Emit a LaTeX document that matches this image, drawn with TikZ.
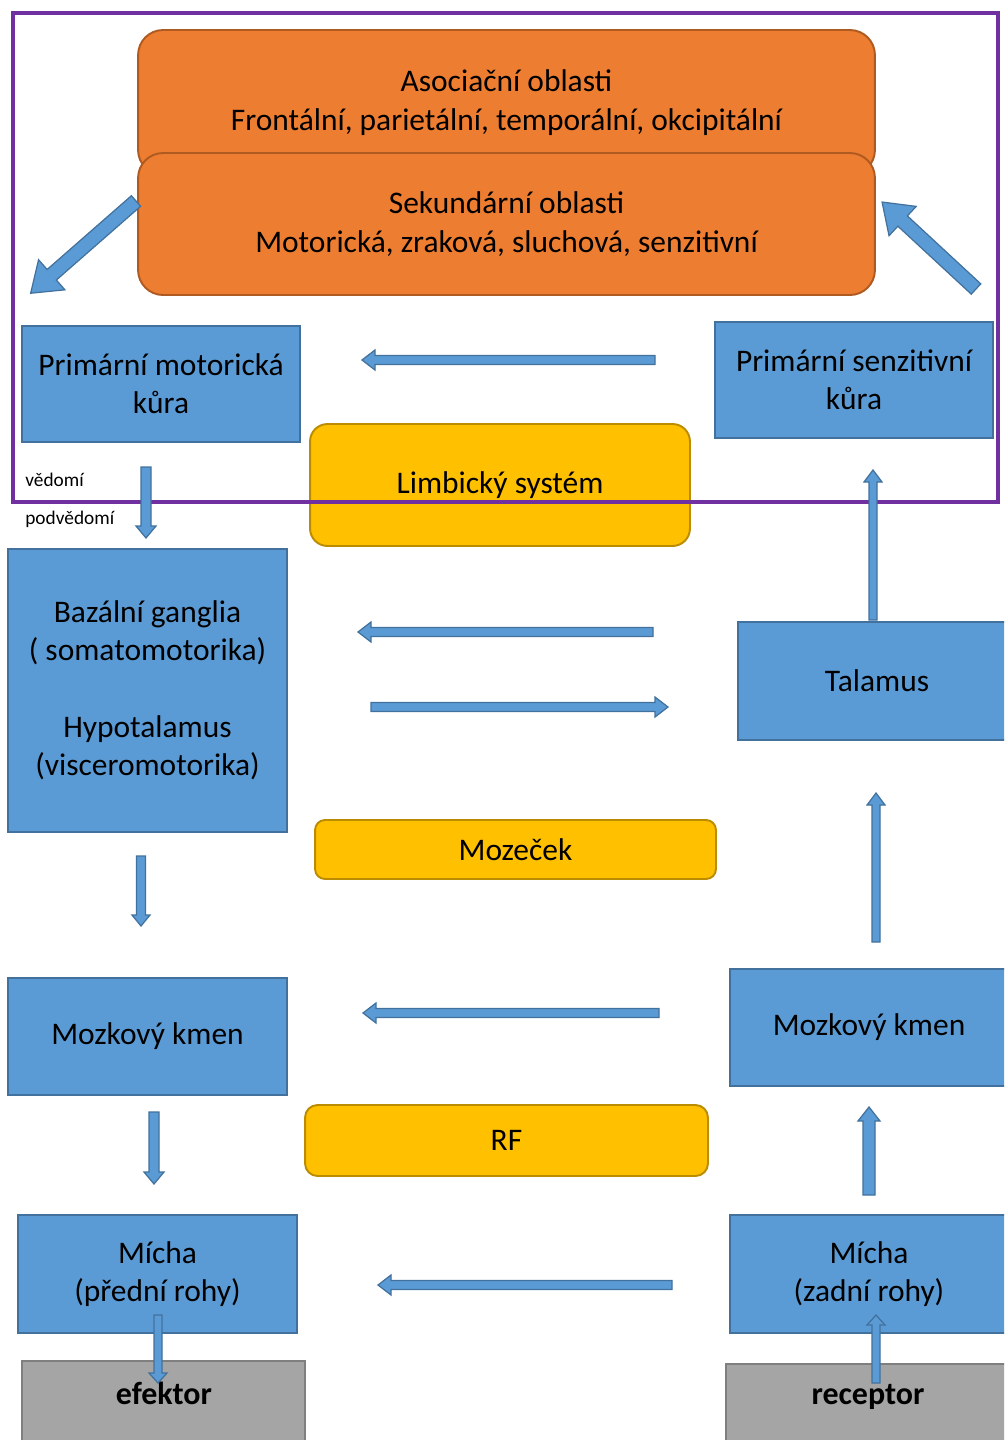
\documentclass[tikz,border=0pt]{standalone}
\usepackage{fontspec}
\setmainfont{Carlito}
\definecolor{bfill}{HTML}{5B9BD5}
\definecolor{bstroke}{HTML}{41719C}
\definecolor{ofill}{HTML}{ED7D31}
\definecolor{ostroke}{HTML}{AE5A21}
\definecolor{yfill}{HTML}{FFC000}
\definecolor{ystroke}{HTML}{BC8C00}
\definecolor{gfill}{HTML}{A5A5A5}
\definecolor{gstroke}{HTML}{7F7F7F}
\definecolor{purp}{HTML}{7030A0}
% block arrow: start coordinate, visual angle, length, half shaft, half head, head length
\newcommand{\barr}[6]{\draw[barrow, shift={(#1)}, rotate=#2] (0,-#4) -- ({#3-#6},-#4) -- ({#3-#6},-#5) -- (#3,0) -- ({#3-#6},#5) -- ({#3-#6},#4) -- (0,#4) -- cycle;}
\begin{document}
\begin{tikzpicture}[x=0.02cm,y=-0.02cm,
  txt/.style={font=\fontsize{17.9}{21.8}\selectfont, align=center, text=black},
  bluebox/.style={txt, draw=bstroke, fill=bfill, line width=1.1pt, inner sep=0pt},
  orangebox/.style={txt, draw=ostroke, fill=ofill, line width=1.1pt, inner sep=0pt, rounded corners=0.5cm},
  yellowbox/.style={txt, draw=ystroke, fill=yfill, line width=1.1pt, inner sep=0pt, rounded corners=0.35cm},
  graybox/.style={draw=gstroke, fill=gfill, line width=1.1pt, inner sep=0pt},
  boldtxt/.style={font=\fontsize{18.2}{22}\selectfont\bfseries, text=black},
  smalltxt/.style={font=\fontsize{11}{13}\selectfont, text=black, anchor=west, inner sep=0pt},
  barrow/.style={draw=bstroke, fill=bfill, line width=0.7pt, line join=miter}]
\useasboundingbox (0,0) rectangle (1004,1440);
\clip (0,0) rectangle (1004,1440);
\fill[white] (0,0) rectangle (1004,1440);

% orange boxes
\node[orangebox, minimum width=14.74cm, minimum height=2.9cm] (asoc) at (506.5,102.5)
  {Asociační oblasti\\Frontální, parietální, temporální, okcipitální};
\node[orangebox, minimum width=14.74cm, minimum height=2.84cm] (sek) at (506.5,224)
  {Sekundární oblasti\\Motorická, zraková, sluchová, senzitivní};

% blue boxes
\node[bluebox, minimum width=5.56cm, minimum height=2.32cm] (pmk) at (161,384) {Primární motorická\\kůra};
\node[bluebox, minimum width=5.56cm, minimum height=2.32cm] (psk) at (854,380) {Primární senzitivní\\kůra};
\node[yellowbox, minimum width=7.6cm, minimum height=2.44cm] (limb) at (500,485) {Limbický systém};
\node[bluebox, minimum width=5.58cm, minimum height=5.66cm] (bg) at (147.5,690.5)
  {Bazální ganglia\\( somatomotorika)\\[21.8pt]Hypotalamus\\(visceromotorika)};
\node[bluebox, minimum width=5.56cm, minimum height=2.36cm] (tal) at (877,681) {Talamus};
\node[yellowbox, minimum width=8.02cm, minimum height=1.18cm, rounded corners=0.2cm] (moz) at (515.5,849.5) {Mozeček};
\node[bluebox, minimum width=5.58cm, minimum height=2.34cm] (mkl) at (147.5,1036.5) {Mozkový kmen};
\node[bluebox, minimum width=5.56cm, minimum height=2.34cm] (mkr) at (869,1027.5) {Mozkový kmen};
\node[yellowbox, minimum width=8.06cm, minimum height=1.42cm, rounded corners=0.25cm] (rf) at (506.5,1140.5) {RF};
\node[bluebox, minimum width=5.58cm, minimum height=2.36cm] (mil) at (157.5,1274) {Mícha\\(přední rohy)};
\node[bluebox, minimum width=5.56cm, minimum height=2.36cm] (mir) at (869,1274) {Mícha\\(zadní rohy)};

% gray boxes
\node[graybox, anchor=north, minimum width=5.66cm, minimum height=2.4cm] (ef) at (163.5,1360) {};
\node[boldtxt] (eft) at (164,1393) {efektor};
\node[graybox, anchor=north, minimum width=5.68cm, minimum height=2.4cm] (rec) at (868,1363) {};
\node[boldtxt] (rect) at (868,1397) {receptor};

% purple frame
\draw[purp, line width=2.2pt] (13,13) rectangle (998,502);
\node[smalltxt] (ved) at (25,480) {vědomí};
\node[smalltxt] (podved) at (25,519) {podvědomí};

% arrow start coordinates
\coordinate (d1) at (136,201);
\coordinate (d2) at (976,289);
\coordinate (h1) at (655,360);
\coordinate (v1) at (146,467);
\coordinate (v2) at (873,620);
\coordinate (h2) at (653,632);
\coordinate (h3) at (371,707);
\coordinate (v3) at (141,856);
\coordinate (v4) at (876,942);
\coordinate (h4) at (659,1013);
\coordinate (v5) at (154,1112);
\coordinate (v6) at (869,1195);
\coordinate (h5) at (672,1285);
\coordinate (v7) at (158,1315);
\coordinate (v8) at (876,1383);

% block arrows
\barr{d1}{221.2}{140}{7}{20}{28}
\barr{d2}{137.2}{128}{7}{20}{28}
\barr{h1}{180}{293}{4.5}{10}{13}
\barr{v1}{270}{71}{5}{10}{12}
\barr{v2}{90}{150}{4}{9}{12}
\barr{h2}{180}{295}{4.5}{10}{13}
\barr{h3}{0}{297}{4.5}{10}{13}
\barr{v3}{270}{70}{4.5}{9}{11}
\barr{v4}{90}{149}{4}{9}{12}
\barr{h4}{180}{296}{4.5}{10}{13}
\barr{v5}{270}{72}{5}{10}{12}
\barr{v6}{90}{88}{6}{11}{14}
\barr{h5}{180}{294}{4.5}{10}{13}
\barr{v7}{270}{68}{4}{9}{10}
\barr{v8}{90}{68}{4}{9}{10}
\end{tikzpicture}
\end{document}
